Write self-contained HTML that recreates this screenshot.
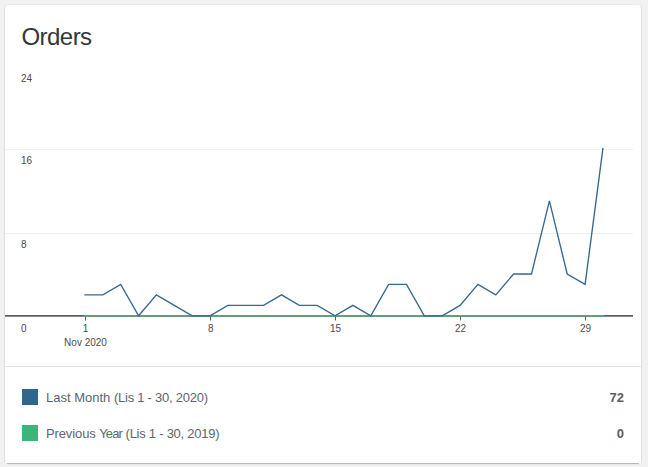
<!DOCTYPE html>
<html>
<head>
<meta charset="utf-8">
<style>
html,body{margin:0;padding:0;}
body{width:648px;height:467px;background:#f1f1f1;overflow:hidden;position:relative;font-family:"Liberation Sans",sans-serif;}
.card{position:absolute;left:5px;top:5px;width:636px;height:458px;background:#fff;border-radius:3px 3px 1px 1px;box-shadow:-1px 0 0 rgba(0,0,0,.075),1px 0 0 rgba(0,0,0,.075),0 -1px 0 rgba(0,0,0,.025);}
.cardsh{position:absolute;left:7px;top:463px;width:632px;height:1px;background:#bababa;box-shadow:0 1px 0 rgba(0,0,0,.035);}
.title{position:absolute;left:21.5px;top:22px;font-size:24px;line-height:30px;color:#32373c;letter-spacing:-0.55px;white-space:nowrap;}
svg{position:absolute;left:0;top:0;}
.lbl{font-size:10px;fill:#50494b;font-family:"Liberation Sans",sans-serif;}
.leg{position:absolute;left:22px;width:602px;height:16px;font-size:13px;line-height:16px;color:#5c6670;}
.leg .sw{position:absolute;left:0;top:0;width:16px;height:16px;}
.leg .tx{position:absolute;left:24px;top:1px;white-space:nowrap;}
.leg .tx i{font-style:normal;letter-spacing:-0.25px;}
.leg .vl{position:absolute;right:0;top:1px;font-weight:bold;color:#5d5d66;}
</style>
</head>
<body>
<div class="card"></div>
<div class="cardsh"></div>
<div class="title">Orders</div>
<svg width="648" height="467" viewBox="0 0 648 467">
  <line x1="5" y1="149.5" x2="633" y2="149.5" stroke="#f0f0f0" stroke-width="1"/>
  <line x1="5" y1="233.5" x2="633" y2="233.5" stroke="#f0f0f0" stroke-width="1"/>
  <line x1="5" y1="315.8" x2="633" y2="315.8" stroke="#665d5f" stroke-width="1.8"/>
  <line x1="5" y1="366.5" x2="641" y2="366.5" stroke="#e2e4e7" stroke-width="1"/>
  <g stroke="#6b5558" stroke-width="1">
    <line x1="85.5" y1="316.5" x2="85.5" y2="320.5"/>
    <line x1="210.5" y1="316.5" x2="210.5" y2="320.5"/>
    <line x1="335.5" y1="316.5" x2="335.5" y2="320.5"/>
    <line x1="460.5" y1="316.5" x2="460.5" y2="320.5"/>
    <line x1="585.5" y1="316.5" x2="585.5" y2="320.5"/>
  </g>
  <line x1="84" y1="315.8" x2="604" y2="315.8" stroke="#3eb474" stroke-width="1.6"/>
  <polyline fill="none" stroke="#37688f" stroke-width="1.35" stroke-linecap="square" points="85.0,294.9 102.9,294.9 120.7,284.4 138.6,315.8 156.4,294.9 174.3,305.4 192.2,315.8 210.0,315.8 227.9,305.4 245.7,305.4 263.6,305.4 281.5,294.9 299.3,305.4 317.2,305.4 335.0,315.8 352.9,305.4 370.8,315.8 388.6,284.4 406.5,284.4 424.3,315.8 442.2,315.8 460.1,305.4 477.9,284.4 495.8,294.9 513.6,274.0 531.5,274.0 549.4,200.9 567.2,274.0 585.1,284.4 602.9,148.6"/>
  <g class="lbl">
    <text x="21" y="82">24</text>
    <text x="21" y="164">16</text>
    <text x="21" y="248">8</text>
    <text x="21" y="331.6">0</text>
    <text x="85.5" y="332" text-anchor="middle">1</text>
    <text x="210.7" y="332" text-anchor="middle">8</text>
    <text x="335.5" y="332" text-anchor="middle">15</text>
    <text x="460.5" y="332" text-anchor="middle">22</text>
    <text x="585.5" y="332" text-anchor="middle">29</text>
    <text x="85.5" y="346" text-anchor="middle">Nov 2020</text>
  </g>
</svg>
<div class="leg" style="top:389px"><span class="sw" style="background:#31668c"></span><span class="tx">Last Month <i>(Lis 1 - 30, 2020)</i></span><span class="vl">72</span></div>
<div class="leg" style="top:425px"><span class="sw" style="background:#3bb578"></span><span class="tx"><i style="letter-spacing:-0.12px">Previous</i> <i style="letter-spacing:-0.9px">Year</i> <i>(Lis 1 - 30, 2019)</i></span><span class="vl">0</span></div>
</body>
</html>
